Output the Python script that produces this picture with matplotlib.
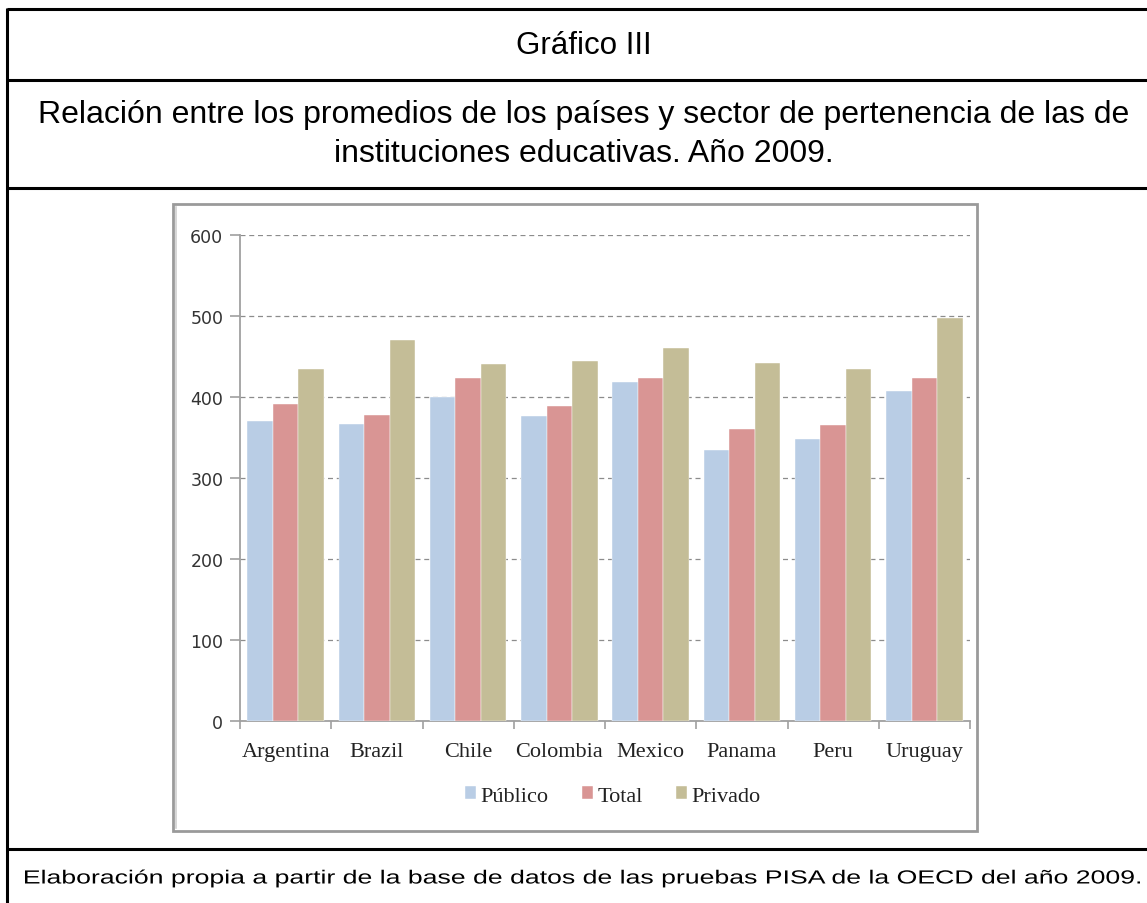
import numpy as np
import matplotlib.pyplot as plt
from matplotlib.lines import Line2D
from matplotlib.patches import Rectangle, PathPatch
from matplotlib.textpath import TextPath
from matplotlib.font_manager import FontProperties
from matplotlib.transforms import Affine2D

# data
paises = ['Argentina', 'Brazil', 'Chile', 'Colombia', 'Mexico', 'Panama', 'Peru', 'Uruguay']
publico = [370, 367, 400, 376, 418, 335, 348, 407]
total = [391, 378, 423, 389, 423, 361, 365, 423]
privado = [434, 470, 441, 444, 461, 442, 434, 497]
series = ['Público', 'Total', 'Privado']
colores = ['#b9cde5', '#d99594', '#c4bd97']

W, H = 1147, 904
fig = plt.figure(figsize=(W/100.0, H/100.0), dpi=100)
fig.patch.set_facecolor('white')

def px(x, y):
    # pixel coords (top-left origin) -> figure fraction
    return x/float(W), 1.0 - y/float(H)

def hline(y, x0=7, x1=1147, lw=2.2):
    a = px(x0, y); b = px(x1, y)
    fig.add_artist(Line2D([a[0], b[0]], [a[1], b[1]], color='black', lw=lw, solid_capstyle='butt'))

def vline(x, y0, y1, lw=2.2):
    a = px(x, y0); b = px(x, y1)
    fig.add_artist(Line2D([a[0], b[0]], [a[1], b[1]], color='black', lw=lw, solid_capstyle='butt'))

# table frame
hline(10)
hline(81)
hline(189)
hline(850)
vline(7, 9, 904)

sans = 'Liberation Sans'
fig.text(*px(584, 46), 'Gráfico III', ha='center', va='center', fontsize=22.5, family=sans)
fig.text(*px(584, 115), 'Relación entre los promedios de los países y sector de pertenencia de las de',
         ha='center', va='center', fontsize=23, family=sans)
fig.text(*px(584, 154), 'instituciones educativas. Año 2009.', ha='center', va='center', fontsize=23, family=sans)

# footer: the source text is stretched sideways, so draw it as a scaled path
nota = 'Elaboración propia a partir de la base de datos de las pruebas PISA de la OECD del año 2009.'
tp = TextPath((0, 0), nota, size=100, prop=FontProperties(family=sans))
ext = tp.get_extents()
sx = (1140 - 25) / ext.width
sy = 13.6 / (100 * 0.716)
tr = (Affine2D().translate(-ext.x0, 0).scale(sx, sy).translate(25, H - 884.5)
      + Affine2D().scale(1.0/W, 1.0/H) + fig.transFigure)
fig.add_artist(PathPatch(tp, transform=tr, facecolor='black', edgecolor='none'))

# chart box with a light shadow
x0, y0 = px(173, 832)
x1, y1 = px(977, 205)
fig.add_artist(Rectangle((x0, y0), x1-x0, y1-y0, transform=fig.transFigure,
                         fill=False, edgecolor='#9a9a9a', lw=2.0))
s0 = px(176, 829)
s1 = px(176, 208)
fig.add_artist(Line2D([s0[0], s1[0]], [s0[1], s1[1]], color='#d0d0d0', lw=1.2))

ax0, ay0 = px(240, 722)
ax1, ay1 = px(970, 236)
ax = fig.add_axes([ax0, ay0, ax1-ax0, ay1-ay0])

x = np.arange(len(paises))
w = 0.28
for k, vals in enumerate([publico, total, privado]):
    ax.bar(x + (k-1)*w, vals, w, color=colores[k], label=series[k],
           edgecolor='white', linewidth=0.3, zorder=3)

ax.set_xlim(-0.5, len(paises)-0.5)
ax.set_ylim(0, 600)
ax.set_yticks(range(0, 601, 100))
ax.yaxis.grid(True, linestyle=(0, (4, 3)), color='#8c8c8c', lw=0.9, zorder=0)
for s in ['top', 'right']:
    ax.spines[s].set_visible(False)
for s in ['left', 'bottom']:
    ax.spines[s].set_color('#a0a0a0')
    ax.spines[s].set_linewidth(1.3)

ax.set_xticks(x)
ax.set_xticklabels(paises, family='Liberation Serif', fontsize=16, color='#222222')
ax.set_xticks(np.arange(-0.5, len(paises)), minor=True)
ax.tick_params(axis='x', which='major', length=0, pad=15)
ax.tick_params(axis='x', which='minor', length=6, color='#a0a0a0', width=1.2)
ax.tick_params(axis='y', length=7, color='#a0a0a0', width=1.2, pad=5, labelcolor='#333333')
for t in ax.get_yticklabels():
    t.set_family('DejaVu Sans')
    t.set_fontsize(12.5)

leg = fig.legend(loc='center', bbox_to_anchor=px(613, 797), ncol=3, frameon=False,
                 prop={'family': 'Liberation Serif', 'size': 16},
                 handlelength=0.5, handleheight=0.5, handletextpad=0.2, columnspacing=1.5)
for t in leg.get_texts():
    t.set_color('#222222')

plt.savefig('out.png', dpi=100)
